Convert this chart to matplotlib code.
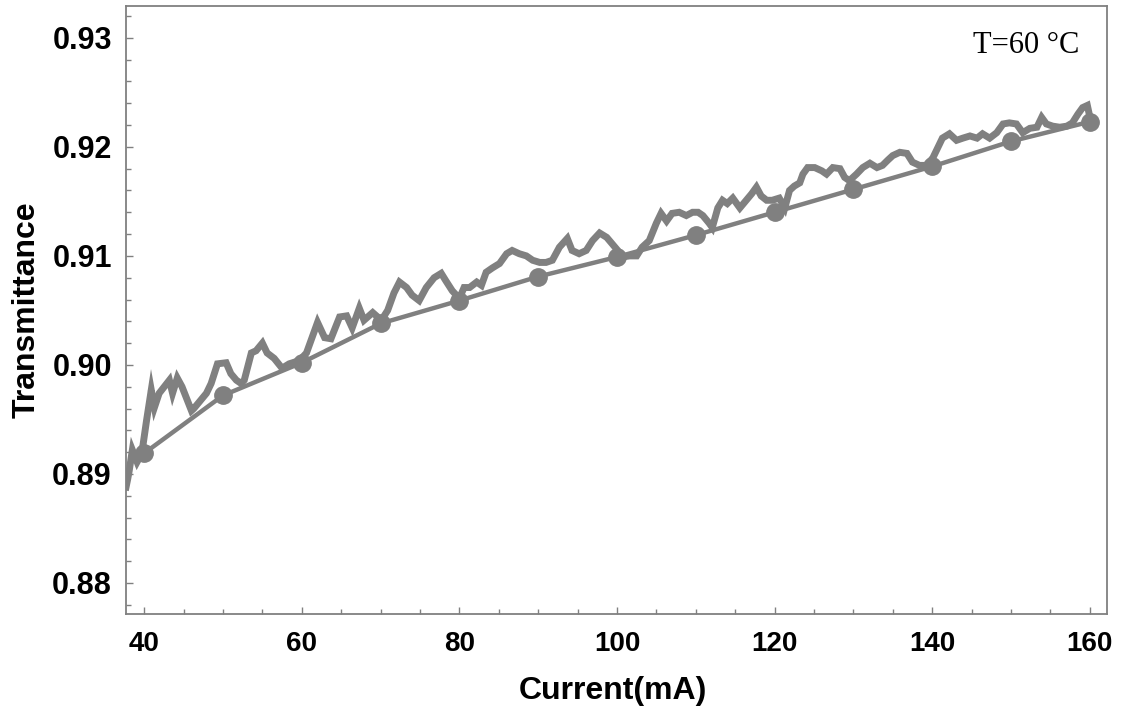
import matplotlib
matplotlib.use("Agg")
import matplotlib.pyplot as plt
from matplotlib.ticker import MultipleLocator

# Fitted/marker series
fit_x = [40, 50, 60, 70, 80, 90, 100, 110, 120, 130, 140, 150, 160]
fit_y = [0.8919, 0.8972, 0.9002, 0.9038, 0.9059, 0.9081, 0.9099, 0.9119,
         0.9140, 0.9161, 0.9182, 0.9205, 0.9223]

meas_x = [37.7, 37.9, 38.1, 38.5, 39.1, 39.7, 40.3, 40.9, 41.3, 41.9, 43.2, 43.6,
          44.2, 44.8, 46.0, 46.3, 47.9, 48.5, 49.3, 50.4, 51.0, 51.7, 52.3, 52.7,
          53.6, 54.2, 55.0, 55.6, 56.5, 57.5, 58.4, 59.7, 60.6, 61.2, 62.0, 62.9,
          63.7, 64.8, 65.7, 66.4, 67.3, 67.9, 69.0, 70.1, 70.9, 71.7, 72.4, 73.3,
          74.0, 74.9, 75.8, 76.8, 77.7, 78.3, 79.1, 80.0, 80.6, 81.3, 82.2, 82.8,
          83.4, 84.2, 85.1, 86.0, 86.7, 87.6, 88.5, 89.3, 90.2, 91.0, 91.8, 92.7,
          93.7, 94.3, 95.2, 96.1, 96.9, 97.8, 98.7, 99.4, 100.1, 100.7, 101.6, 102.5,
          103.2, 104.1, 105.0, 105.6, 106.3, 107.0, 107.9, 108.8, 109.6, 110.3, 110.9,
          111.7, 112.1, 112.8, 113.4, 114.0, 114.7, 115.6, 116.4, 117.1, 117.7, 118.3,
          119.0, 119.7, 120.6, 121.3, 121.9, 122.5, 123.2, 123.6, 124.2, 125.1, 126.0,
          126.6, 127.4, 128.3, 128.9, 129.5, 130.4, 131.2, 132.1, 133.0, 133.7, 134.4,
          135.0, 135.9, 136.8, 137.5, 138.4, 139.3, 140.1, 140.7, 141.3, 142.2, 143.1,
          143.9, 144.8, 145.7, 146.4, 147.3, 148.2, 149.0, 149.8, 150.7, 151.5, 152.4,
          153.3, 153.9, 154.5, 155.3, 156.2, 157.1, 157.8, 158.5, 159.1, 159.7, 160.0]
meas_y = [0.8888, 0.8895, 0.8903, 0.8922, 0.8911, 0.8919, 0.8949, 0.8977, 0.8961, 0.8974, 0.8986, 0.8974,
          0.8988, 0.8980, 0.8958, 0.8960, 0.8974, 0.8983, 0.9001, 0.9002, 0.8992, 0.8986, 0.8983, 0.8986,
          0.9011, 0.9013, 0.9020, 0.9011, 0.9006, 0.8997, 0.9001, 0.9004, 0.9011, 0.9023, 0.9039, 0.9025,
          0.9024, 0.9044, 0.9045, 0.9034, 0.9052, 0.9041, 0.9048, 0.9041, 0.9050, 0.9066, 0.9076, 0.9071,
          0.9064, 0.9059, 0.9071, 0.9080, 0.9084, 0.9077, 0.9068, 0.9061, 0.9071, 0.9071, 0.9076, 0.9073,
          0.9085, 0.9089, 0.9093, 0.9102, 0.9105, 0.9102, 0.9100, 0.9096, 0.9094, 0.9094, 0.9096, 0.9108,
          0.9116, 0.9105, 0.9102, 0.9105, 0.9114, 0.9121, 0.9117, 0.9111, 0.9105, 0.9099, 0.9100, 0.9100,
          0.9108, 0.9114, 0.9130, 0.9139, 0.9132, 0.9139, 0.9140, 0.9137, 0.9140, 0.9140, 0.9137,
          0.9130, 0.9126, 0.9144, 0.9151, 0.9148, 0.9153, 0.9144, 0.9151, 0.9157, 0.9163, 0.9155,
          0.9151, 0.9151, 0.9153, 0.9144, 0.9160, 0.9164, 0.9167, 0.9175, 0.9181, 0.9181, 0.9178,
          0.9175, 0.9181, 0.9180, 0.9172, 0.9169, 0.9175, 0.9181, 0.9185, 0.9181, 0.9183, 0.9188,
          0.9192, 0.9195, 0.9194, 0.9186, 0.9183, 0.9183, 0.9190, 0.9199, 0.9208, 0.9212, 0.9206,
          0.9208, 0.9210, 0.9208, 0.9212, 0.9208, 0.9213, 0.9221, 0.9222, 0.9221, 0.9213, 0.9217,
          0.9218, 0.9227, 0.9221, 0.9219, 0.9218, 0.9219, 0.9222, 0.9230, 0.9236, 0.9238, 0.9228]

x_ticks = [40, 60, 80, 100, 120, 140, 160]
y_ticks = [0.88, 0.89, 0.90, 0.91, 0.92, 0.93]
y_ticklabels = ["0.88", "0.89", "0.90", "0.91", "0.92", "0.93"]

GRAY = "#808080"

fig = plt.figure(figsize=(11.23, 7.13), dpi=100)
ax = fig.add_axes([0.1119, 0.1389, 0.8739, 0.8527])

ax.plot(meas_x, meas_y, color=GRAY, lw=5.0, solid_joinstyle="miter", zorder=2)
ax.plot(fit_x, fit_y, color=GRAY, lw=3.2, marker="o", markersize=12.5, zorder=3)

ax.set_xlim(37.65, 162.2)
ax.set_ylim(0.87716, 0.93292)

ax.set_xticks(x_ticks)
ax.set_yticks(y_ticks)
ax.set_yticklabels(y_ticklabels)
ax.xaxis.set_minor_locator(MultipleLocator(5))
ax.yaxis.set_minor_locator(MultipleLocator(0.002))

ax.tick_params(axis="both", which="both", direction="in", top=False, right=False,
               color=GRAY, width=1.0)
ax.tick_params(axis="both", which="major", length=5)
ax.tick_params(axis="both", which="minor", length=3.5)
ax.tick_params(axis="y", which="major", pad=10)
ax.tick_params(axis="x", which="major", pad=12)

for lab in ax.get_xticklabels():
    lab.set_fontfamily("Liberation Sans")
    lab.set_fontweight("bold")
    lab.set_fontsize(20)
for lab in ax.get_yticklabels():
    lab.set_fontfamily("Liberation Sans")
    lab.set_fontweight("bold")
    lab.set_fontsize(22)

for s in ax.spines.values():
    s.set_color(GRAY)
    s.set_linewidth(1.3)

ax.set_xlabel("Current(mA)", fontfamily="Liberation Sans", fontweight="bold", fontsize=23)
ax.set_ylabel("Transmittance", fontfamily="Liberation Sans", fontweight="bold", fontsize=23)
ax.xaxis.set_label_coords(0.497, -0.102)
ax.yaxis.set_label_coords(-0.0852, 0.5)

ax.text(0.918, 0.923, "T=60 °C", transform=ax.transAxes, ha="center", va="baseline",
        fontsize=22, family=["Liberation Serif", "DejaVu Serif"])

fig.savefig("out.png", dpi=100)
